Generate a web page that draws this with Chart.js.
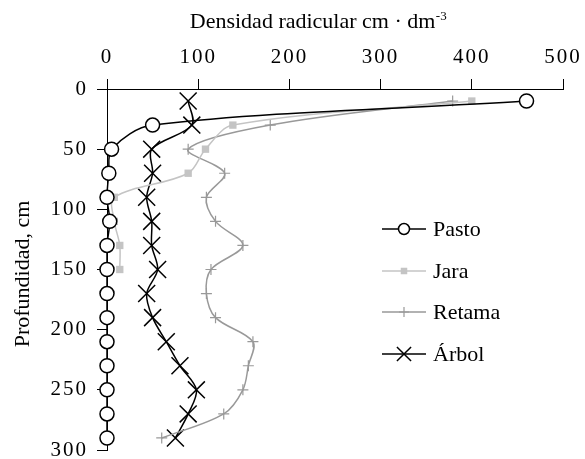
<!DOCTYPE html>
<html>
<head>
<meta charset="utf-8">
<script src="https://cdn.jsdelivr.net/npm/chart.js@4.4.1/dist/chart.umd.min.js"></script>
<style>
html,body{margin:0;padding:0;background:#fff;}
#wrap{width:585px;height:459px;position:relative;}
</style>
</head>
<body>
<div id="wrap"><canvas id="c" width="585" height="459"></canvas></div>
<script>
// ---- data ----
const depths = [10, 30, 50, 70, 90, 110, 130, 150, 170, 190, 210, 230, 250, 270, 290];
const pasto  = [460, 50, 5, 2, 0, 3, 0, 0, 0, 0, 0, 0, 0, 0, 0];
const jaraDepths = [10, 30, 50, 70, 90, 110, 130, 150];
const jara   = [400, 138, 108, 89, 8, 8, 14, 14];
const retama = [379, 179, 89, 129, 109, 119, 149, 114, 109, 119, 160, 155, 149, 128, 60];
const arbol  = [89, 93, 49, 50, 43.5, 49, 49, 55.5, 43.5, 50, 65, 80, 98, 89, 75];
const seriesNames = ['Pasto', 'Jara', 'Retama', 'Árbol'];
const xTickValues = [0, 100, 200, 300, 400, 500];
const yTickValues = [0, 50, 100, 150, 200, 250, 300];
const xTitle = 'Densidad radicular cm · dm';
const xTitleSup = '-3';
const yTitle = 'Profundidad, cm';

const FONT = '"Liberation Serif", "Times New Roman", serif';

function pts(xs, ds) { return ds.map((d, i) => ({ x: xs[i], y: d })); }

const styles = [
  { color: '#000000', pointStyle: 'circle', radius: 7, bg: '#ffffff', bw: 1.5, lw: 1.5, legR: 5.5 },
  { color: '#c4c4c4', pointStyle: 'rect', radius: 5.2, bg: '#c4c4c4', bw: 0, lw: 1.5, legR: 4.6 },
  { color: '#999999', pointStyle: 'cross', radius: 5.5, bg: '#999999', bw: 1.2, lw: 1.5, legR: 5 },
  { color: '#000000', pointStyle: 'crossRot', radius: 12, bg: '#000000', bw: 1.5, lw: 1.5, legR: 10 }
];
const dataSets = [pts(pasto, depths), pts(jara, jaraDepths), pts(retama, depths), pts(arbol, depths)];

const datasets = dataSets.map((d, i) => ({
  label: seriesNames[i],
  data: d,
  showLine: true,
  borderColor: styles[i].color,
  borderWidth: styles[i].lw,
  tension: 0.33,
  pointStyle: styles[i].pointStyle,
  pointRadius: styles[i].radius,
  pointBackgroundColor: styles[i].bg,
  pointBorderColor: styles[i].color,
  pointBorderWidth: styles[i].bw,
  clip: false
}));

const spacingPlugin = {
  id: 'spacing',
  beforeDraw(chart) { chart.ctx.letterSpacing = '2px'; },
  beforeDatasetsDraw(chart) { chart.ctx.letterSpacing = '0px'; }
};

function drawMarker(ctx, s, x, y, r) {
  ctx.save();
  ctx.strokeStyle = s.color;
  ctx.fillStyle = s.bg;
  ctx.lineWidth = s.bw || 1.2;
  ctx.beginPath();
  if (s.pointStyle === 'circle') {
    ctx.arc(x, y, r, 0, Math.PI * 2);
    ctx.fill(); ctx.stroke();
  } else if (s.pointStyle === 'rect') {
    const h = r * Math.SQRT1_2;
    ctx.fillRect(x - h, y - h, 2 * h, 2 * h);
  } else if (s.pointStyle === 'cross') {
    ctx.moveTo(x - r, y); ctx.lineTo(x + r, y);
    ctx.moveTo(x, y - r); ctx.lineTo(x, y + r);
    ctx.stroke();
  } else {
    const h = r * Math.SQRT1_2;
    ctx.moveTo(x - h, y - h); ctx.lineTo(x + h, y + h);
    ctx.moveTo(x - h, y + h); ctx.lineTo(x + h, y - h);
    ctx.stroke();
  }
  ctx.restore();
}

const decorPlugin = {
  id: 'decor',
  afterDraw(chart) {
    const ctx = chart.ctx;
    ctx.save();
    ctx.letterSpacing = '0px';
    // x title with superscript
    ctx.fillStyle = '#000';
    ctx.textBaseline = 'alphabetic';
    ctx.textAlign = 'left';
    ctx.font = '22px ' + FONT;
    const w1 = ctx.measureText(xTitle).width;
    ctx.font = '13px ' + FONT;
    const w2 = ctx.measureText(xTitleSup).width;
    const x0 = 318 - (w1 + w2) / 2;
    ctx.font = '22px ' + FONT;
    ctx.fillText(xTitle, x0, 28);
    ctx.font = '13px ' + FONT;
    ctx.fillText(xTitleSup, x0 + w1 + 0.5, 20);
    // y title
    ctx.save();
    ctx.translate(29, 274);
    ctx.rotate(-Math.PI / 2);
    ctx.font = '22px ' + FONT;
    ctx.textAlign = 'center';
    ctx.fillText(yTitle, 0, 0);
    ctx.restore();
    // legend
    const rows = [229, 271, 312, 354];
    ctx.font = '22px ' + FONT;
    ctx.textBaseline = 'middle';
    rows.forEach((ry, i) => {
      const s = styles[i];
      ctx.strokeStyle = s.color;
      ctx.lineWidth = s.lw;
      ctx.beginPath();
      ctx.moveTo(382, ry); ctx.lineTo(426, ry);
      ctx.stroke();
      drawMarker(ctx, s, 404, ry, s.legR);
      ctx.fillStyle = '#000';
      ctx.fillText(seriesNames[i], 433, ry + 1);
    });
    ctx.restore();
  }
};

new Chart(document.getElementById('c'), {
  type: 'scatter',
  data: { datasets },
  options: {
    responsive: false,
    devicePixelRatio: 1,
    animation: false,
    layout: { autoPadding: false, padding: { left: 0, right: 22, top: 0, bottom: 9 } },
    plugins: { legend: { display: false }, tooltip: { enabled: false } },
    scales: {
      x: {
        type: 'linear',
        position: 'top',
        min: 0, max: 500,
        afterBuildTicks(scale) { scale.ticks = xTickValues.map(v => ({ value: v })); },
        afterFit(scale) { scale.height = 89; scale.paddingLeft = 0; scale.paddingRight = 0; },
        ticks: { color: '#000', font: { family: FONT, size: 21 }, padding: 9, maxRotation: 0 },
        grid: { drawOnChartArea: false, tickLength: 10, color: '#000', lineWidth: 1 },
        border: { color: '#000', width: 1 }
      },
      y: {
        type: 'linear',
        reverse: true,
        min: 0, max: 300,
        afterBuildTicks(scale) { scale.ticks = yTickValues.map(v => ({ value: v })); },
        afterFit(scale) { scale.width = 107; scale.paddingTop = 0; scale.paddingBottom = 0; },
        ticks: { color: '#000', font: { family: FONT, size: 21 }, padding: 9 },
        grid: { drawOnChartArea: false, tickLength: 10, color: '#000', lineWidth: 1 },
        border: { color: '#000', width: 1 }
      }
    }
  },
  plugins: [spacingPlugin, decorPlugin]
});
</script>
</body>
</html>
